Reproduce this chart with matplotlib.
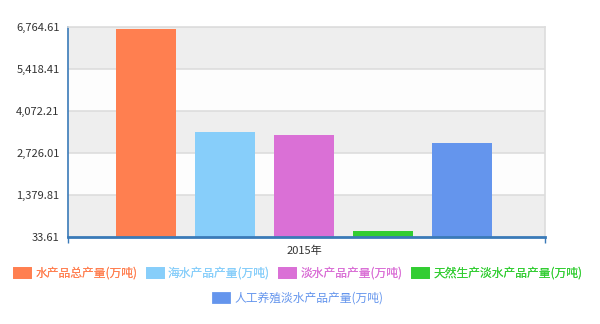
import numpy as np
import matplotlib.pyplot as plt
from matplotlib.patches import Patch

plt.rcParams['font.family'] = ['Noto Sans CJK SC', 'DejaVu Sans']

category = '2015年'
series = ['水产品总产量(万吨)', '海水产品产量(万吨)', '淡水产品产量(万吨)',
          '天然生产淡水产品产量(万吨)', '人工养殖淡水产品产量(万吨)']
values = [6699.65, 3409.61, 3290.04, 227.82, 3062.27]
colors = ['#ff7f50', '#87cefa', '#da70d6', '#32cd32', '#6495ed']
yticks = [33.61, 1379.81, 2726.01, 4072.21, 5418.41, 6764.61]

fig = plt.figure(figsize=(6, 3.24), dpi=100)
ax = fig.add_axes([68 / 600, 1 - 237 / 324, 477 / 600, 210 / 324])

# alternating background bands
for i in range(len(yticks) - 1):
    c = '#eeeeee' if (len(yticks) - 2 - i) % 2 == 0 else '#fdfdfd'
    ax.axhspan(yticks[i], yticks[i + 1], color=c, zorder=0, lw=0)
for y in yticks[1:]:
    ax.axhline(y, color='#dddddd', lw=1.2, zorder=1)

x = np.arange(1, len(values) + 1)
ax.bar(x, values, width=0.76, color=colors, zorder=2)

xlo, xhi = 0.013, 6.05
ax.set_ylim(yticks[0], yticks[-1])
ax.set_xlim(xlo, xhi)
ax.set_yticks(yticks)
ax.set_yticklabels([f'{v:,.2f}' for v in yticks], fontsize=8, color='#333333')
ax.tick_params(axis='y', length=0, pad=6)
ax.set_xticks([3.0])
ax.set_xticklabels([category], fontsize=8, color='#333333')
ax.tick_params(axis='x', which='major', length=0, pad=6)
ax.set_xticks([xlo, xhi], minor=True)
ax.tick_params(axis='x', which='minor', length=4, width=1, color='#3a7ab8')

for s in ['left', 'bottom']:
    ax.spines[s].set_color('#3a7ab8')
ax.spines['left'].set_linewidth(1.2)
ax.spines['bottom'].set_linewidth(2)
ax.spines['right'].set_color('#dddddd')
ax.spines['top'].set_color('#dddddd')
ax.spines['right'].set_linewidth(1.2)
ax.spines['top'].set_linewidth(1.2)

handles = [Patch(facecolor=c, edgecolor=c, linewidth=2, joinstyle='round') for c in colors]

leg_kw = dict(loc='center', frameon=False, fontsize=8.5, handlelength=1.35, handleheight=0.85,
              handletextpad=0.45, columnspacing=0.8)
leg1 = fig.legend(handles[:4], series[:4], bbox_to_anchor=(0.497, 1 - 273 / 324), ncol=4, **leg_kw)
for t, c in zip(leg1.get_texts(), colors[:4]):
    t.set_color(c)
leg2 = fig.legend(handles[4:], series[4:], bbox_to_anchor=(0.497, 1 - 298 / 324), ncol=1, **leg_kw)
for t, c in zip(leg2.get_texts(), colors[4:]):
    t.set_color(c)
fig.add_artist(leg1)

fig.savefig('out.png', dpi=100)
